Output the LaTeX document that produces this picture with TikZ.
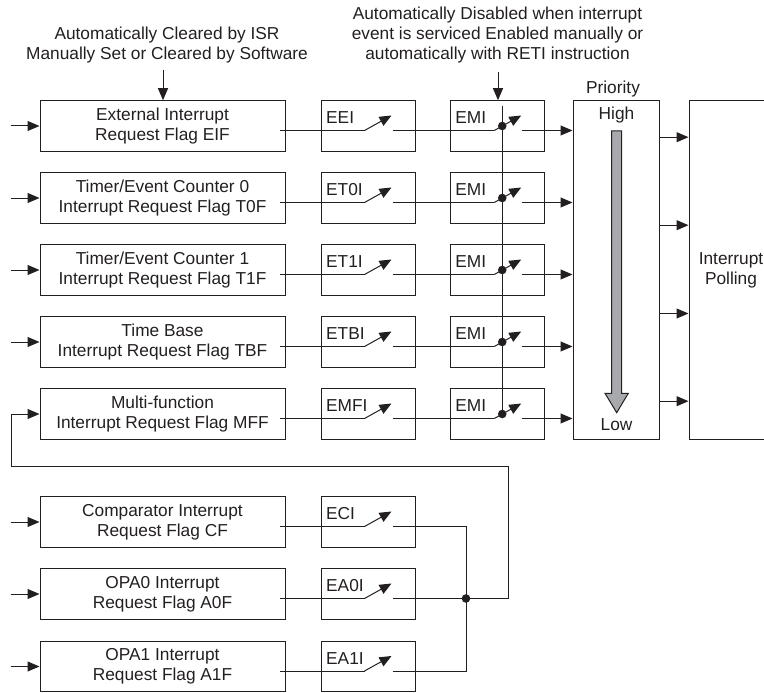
\documentclass[tikz,border=0pt]{standalone}
\usepackage{fontspec}
\setmainfont{Liberation Sans}
\usetikzlibrary{arrows.meta,calc}
\definecolor{ink}{HTML}{231F20}
\definecolor{barfill}{HTML}{A7A9AC}
\begin{document}
\begin{tikzpicture}[x=1pt,y=-1pt,
  every node/.style={font=\fontsize{17.3}{20}\selectfont, inner sep=0pt, text=ink},
  line/.style={line width=1pt, draw=ink},
  box/.style={draw=ink, line width=1pt, align=center, minimum height=50.5pt},
  flagbox/.style={box, minimum width=245pt},
  swbox/.style={box, minimum width=94pt},
  arr/.style={-{Triangle[length=12pt,width=10pt]}},
  lab/.style={anchor=west}
]
\useasboundingbox (0,0) rectangle (764,693);

% top texts
\node[align=center] (t1) at (167,45) {Automatically Cleared by ISR\\Manually Set or Cleared by Software};
\node[align=center] (t2) at (497.5,35) {Automatically Disabled when interrupt\\event is serviced Enabled manually or\\automatically with RETI instruction};

% flag boxes
\node[flagbox] (f1) at (162.5,126) {External Interrupt\\Request Flag EIF};
\node[flagbox] (f2) at (162.5,198) {Timer/Event Counter 0\\Interrupt Request Flag T0F};
\node[flagbox] (f3) at (162.5,270) {Timer/Event Counter 1\\Interrupt Request Flag T1F};
\node[flagbox] (f4) at (162.5,342) {Time Base\\Interrupt Request Flag TBF};
\node[flagbox] (f5) at (162.5,414) {Multi-function\\Interrupt Request Flag MFF};
\node[flagbox] (f6) at (162.5,522) {Comparator Interrupt\\Request Flag CF};
\node[flagbox] (f7) at (162.5,594) {OPA0 Interrupt\\Request Flag A0F};
\node[flagbox] (f8) at (162.5,666.5) {OPA1 Interrupt\\Request Flag A1F};

% switch boxes
\node[swbox] (s1) at (368,126) {};
\node[swbox] (s2) at (368,198) {};
\node[swbox] (s3) at (368,270) {};
\node[swbox] (s4) at (368,342) {};
\node[swbox] (s5) at (368,414) {};
\node[swbox] (s6) at (368,522) {};
\node[swbox] (s7) at (368,594) {};
\node[swbox] (s8) at (368,666.5) {};
\node[lab] (l1) at ($(s1.north west)+(5.5,17.3)$) {EEI};
\node[lab] (l2) at ($(s2.north west)+(5.5,17.3)$) {ET0I};
\node[lab] (l3) at ($(s3.north west)+(5.5,17.3)$) {ET1I};
\node[lab] (l4) at ($(s4.north west)+(5.5,17.3)$) {ETBI};
\node[lab] (l5) at ($(s5.north west)+(5.5,17.3)$) {EMFI};
\node[lab] (l6) at ($(s6.north west)+(5.5,17.3)$) {ECI};
\node[lab] (l7) at ($(s7.north west)+(5.5,17.3)$) {EA0I};
\node[lab] (l8) at ($(s8.north west)+(5.5,17.3)$) {EA1I};

% EMI boxes
\foreach \i/\yy in {1/126,2/198,3/270,4/342,5/414}{
  \node[box, minimum width=93.3pt] (m\i) at (497.4,\yy) {};
  \node[lab] (e\i) at ($(m\i.north west)+(5,17.3)$) {EMI};
}

% priority and polling boxes
\node[box, minimum width=86pt, minimum height=338.3pt] (p) at (616,269.85) {};
\node (pr) at (613,89) {Priority};
\node (hi) at (616.5,115) {High};
\node (lo) at (616.5,425) {Low};
\fill[barfill, draw=ink, line width=1pt] (611.7,131) -- (621.7,131) -- (621.7,393.3) -- (628.3,393.3)
   -- (616.7,412.7) -- (605,393.3) -- (611.7,393.3) -- cycle;
\node[box, minimum width=84pt, minimum height=338.3pt] (pol) at (731,269.85) {Interrupt\\Polling};
\foreach \d in {37,125,213.3,301}{
  \draw[line,arr] ($(p.north east)+(0,\d)$) -- ($(pol.north west)+(0,\d)$);
}

% top arrows
\coordinate (a1) at (163,70);
\draw[line,arr] (a1) -- (a1 |- f1.north);
\coordinate (a2) at (498,72);
\draw[line,arr] (a2) -- (a2 |- m1.north);

% inputs
\foreach \i in {1,2,3,4,6,7,8}{
  \draw[line,arr] ($(f\i.west)+(-29,0)$) -- (f\i.west);
}

% signal lines and switches
\foreach \i in {1,...,8}{
  \draw[line] ($(f\i.east)+(-6,4.5)$) -- ($(s\i.west)+(44,4.5)$);
  \draw[line,arr] ($(s\i.west)+(44,4.5)$) -- ++(27,-15);
}
\foreach \i in {1,...,5}{
  \draw[line] ($(s\i.west)+(72,4.5)$) -- ($(m\i.west)+(44,4.5)$);
  \draw[line,arr] ($(m\i.west)+(44,4.5)$) -- ++(27,-15);
  \coordinate (o\i) at ($(m\i.west)+(72,4.5)$);
  \draw[line,arr] (o\i) -- (o\i -| p.west);
  \fill[ink] ($(m\i.west)+(52,0)$) circle[radius=4.3pt];
}
% EMI common line
\draw[line] ($(m1.north west)+(52,6)$) -- ($(m5.west)+(52,0)$);

% lower combination
\coordinate (o6) at ($(s6.west)+(72,4.5)$);
\coordinate (o7) at ($(s7.west)+(72,4.5)$);
\coordinate (o8) at ($(s8.west)+(72,4.5)$);
\coordinate (j) at (466,598.5);
\draw[line] (o6) -| (j);
\draw[line] (o8) -| (j);
\draw[line] (o7) -- (j);
\fill[ink] (j) circle[radius=4.3pt];
\coordinate (fb1) at (508.3,466.7);
\coordinate (fb2) at (11,466.7);
\draw[line,arr] (j) -| (fb1) -- (fb2) |- (f5.west);
\end{tikzpicture}
\end{document}
